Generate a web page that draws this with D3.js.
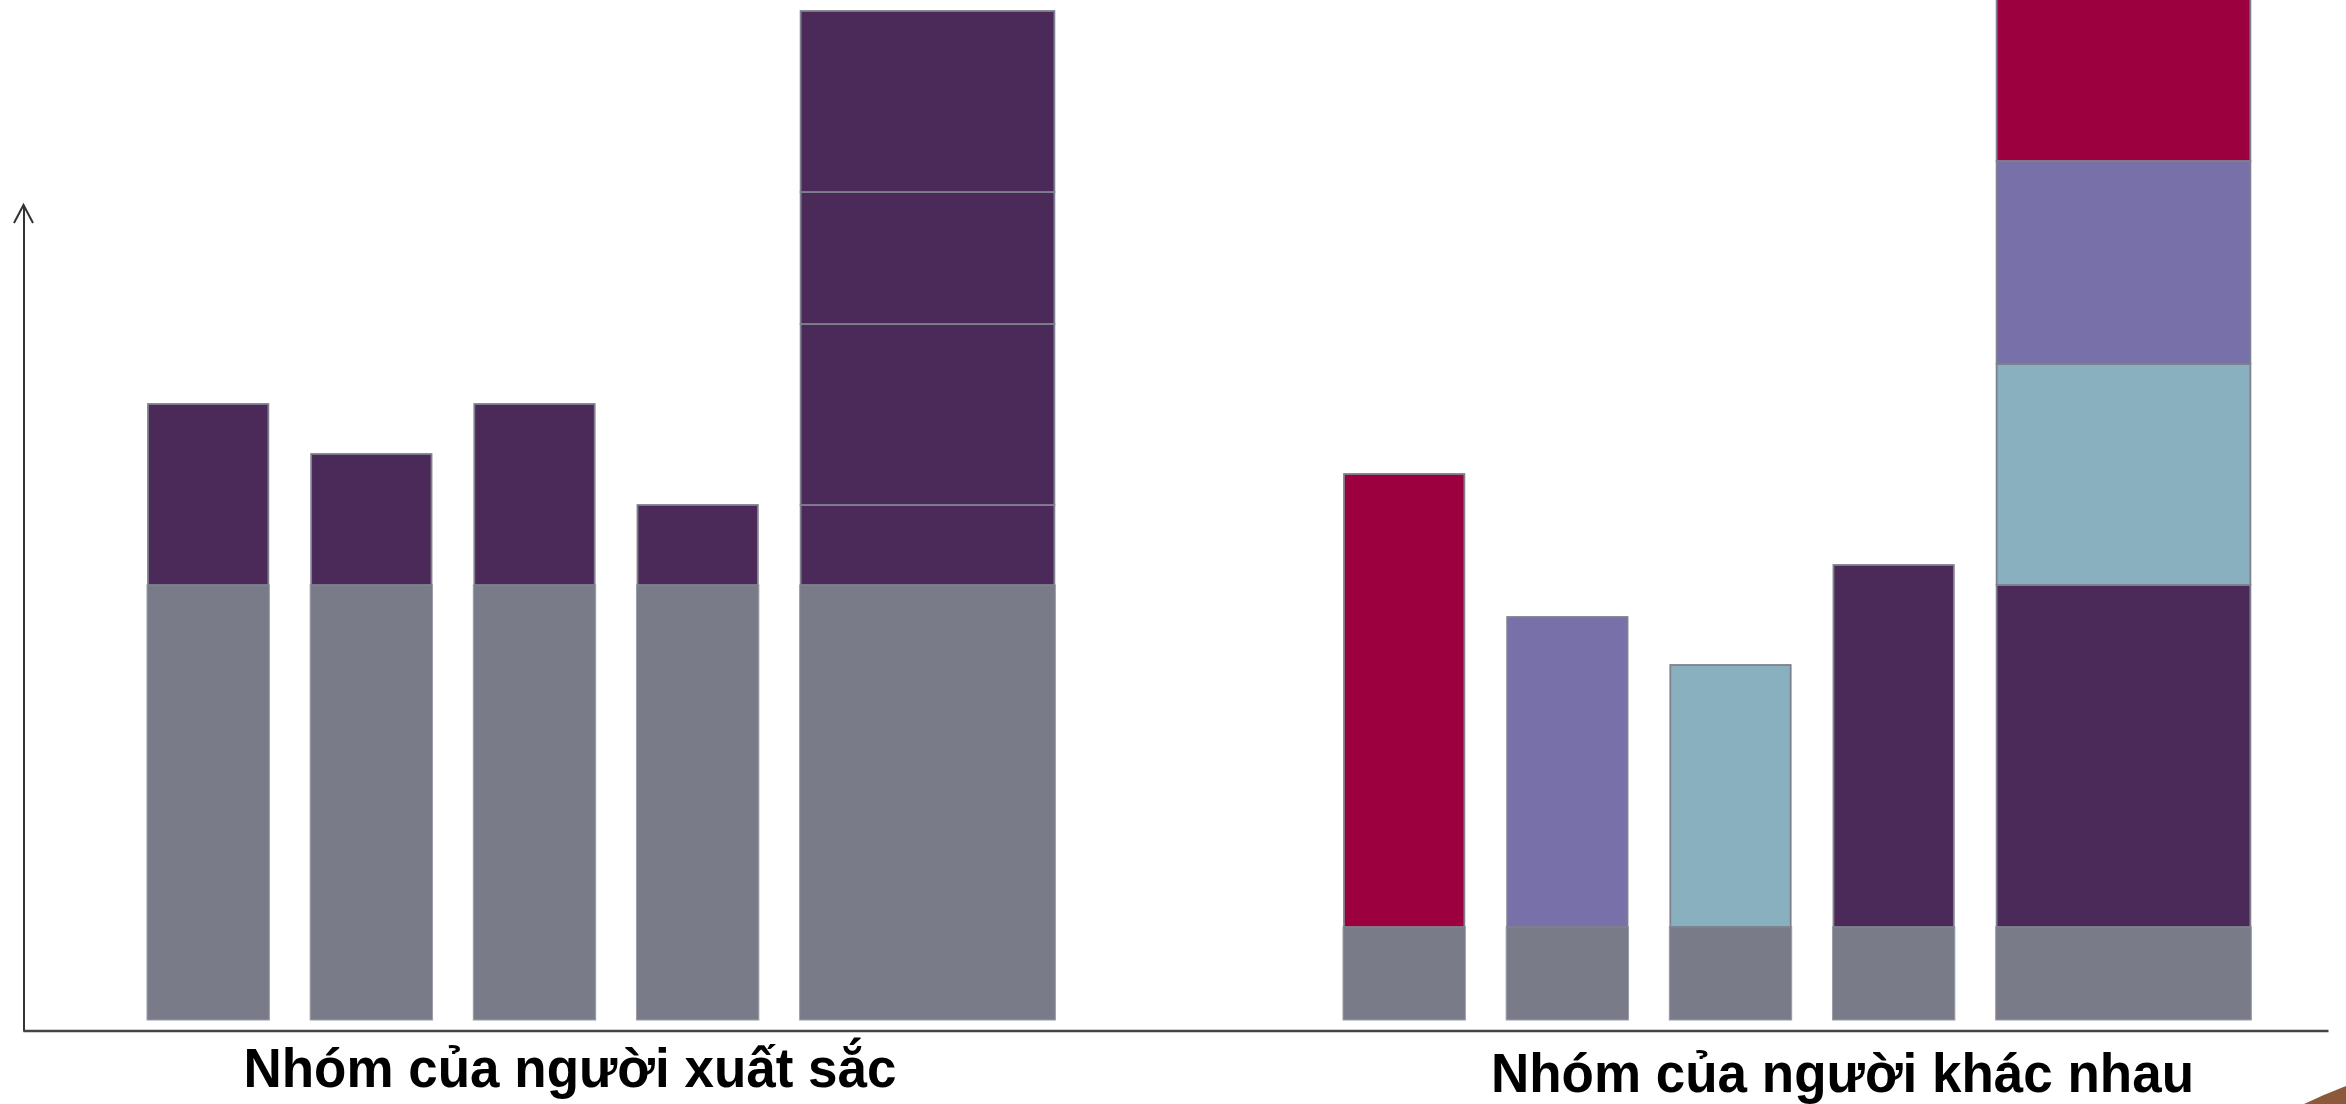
<!DOCTYPE html>
<html>
<head>
<meta charset="utf-8">
<script src="https://cdn.jsdelivr.net/npm/d3@7"></script>
<style>
  html, body { margin: 0; padding: 0; background: #ffffff; }
  svg { display: block; }
</style>
</head>
<body>
<svg id="chart" width="2346" height="1104"></svg>
<script>
// ---- DATA ----
const groupLabels = ["Nhóm của người xuất sắc", "Nhóm của người khác nhau"];

const groupACats = ["A1", "A2", "A3", "A4", "A5"];
const groupABase = [435, 435, 435, 435, 435];
const groupAExtra = [[181], [131], [181], [80], [80, 181, 132, 181]];
const groupASeries = [["d"], ["d"], ["d"], ["d"], ["d", "d", "d", "d"]];

const groupBCats = ["B1", "B2", "B3", "B4", "B5"];
const groupBBase = [93, 93, 93, 93, 93];
const groupBExtra = [[453], [310], [262], [362], [342, 221, 203, 250]];
const groupBSeries = [["r"], ["l"], ["t"], ["d"], ["d", "t", "l", "r"]];

// ---- STYLE ----
const colors = { base: "#797c88", d: "#4b2959", r: "#9c003f", l: "#7870a8", t: "#88b0be" };
const strokeColor = "#7e818d";

const svg = d3.select("#chart");

const y = d3.scaleLinear().domain([0, 1010]).range([1020, 10]);

const xA = d3.scaleBand().domain(groupACats).range([147, 922]).paddingInner(0.25).paddingOuter(0);
const xB = d3.scaleBand().domain(groupBCats).range([1343, 2118]).paddingInner(0.25).paddingOuter(0);
const wideFactor = 2.09;

function drawGroup(x, cats, base, extra, series) {
  const g = svg.append("g");
  cats.forEach((c, i) => {
    const w = i === cats.length - 1 ? x.bandwidth() * wideFactor : x.bandwidth();
    const x0 = x(c);
    g.append("rect")
      .attr("x", x0).attr("width", w)
      .attr("y", y(base[i])).attr("height", y(0) - y(base[i]))
      .attr("fill", colors.base)
      .attr("stroke", "#9a9ca6").attr("stroke-width", 1);
    let acc = base[i];
    extra[i].forEach((v, j) => {
      const top = acc + v;
      g.append("rect")
        .attr("x", x0 + 1).attr("width", w - 2)
        .attr("y", y(top)).attr("height", y(acc) - y(top))
        .attr("fill", colors[series[i][j]])
        .attr("stroke", strokeColor).attr("stroke-width", 1.8);
      acc = top;
    });
  });
}

drawGroup(xA, groupACats, groupABase, groupAExtra, groupASeries);
drawGroup(xB, groupBCats, groupBBase, groupBExtra, groupBSeries);

// ---- AXES (no ticks) ----
const yAxisScale = d3.scaleLinear().domain([0, 1]).range([1031, 205]);
const xAxisScale = d3.scaleLinear().domain([0, 1]).range([23, 2328]);

svg.append("g")
  .attr("transform", "translate(23.5,0)")
  .call(d3.axisLeft(yAxisScale).tickValues([]).tickSizeOuter(0))
  .call(g => g.select(".domain").attr("stroke", "#333").attr("stroke-width", 2));

svg.append("path")
  .attr("d", "M14,223 L23.5,205 L33,223")
  .attr("fill", "none").attr("stroke", "#333").attr("stroke-width", 2);

svg.append("g")
  .attr("transform", "translate(0,1030.5)")
  .call(d3.axisBottom(xAxisScale).tickValues([]).tickSizeOuter(0))
  .call(g => g.select(".domain").attr("stroke", "#444").attr("stroke-width", 2.5));

// ---- GROUP LABELS ----
const labelPos = [
  { cx: 570, y: 1087, w: 653 },
  { cx: 1842.5, y: 1092, w: 703 }
];
groupLabels.forEach((t, i) => {
  svg.append("text")
    .attr("x", labelPos[i].cx).attr("y", labelPos[i].y)
    .attr("text-anchor", "middle")
    .attr("font-family", "'Liberation Sans', Arial, sans-serif")
    .attr("font-weight", "bold")
    .attr("font-size", 55)
    .attr("fill", "#000")
    .attr("textLength", labelPos[i].w)
    .attr("lengthAdjust", "spacingAndGlyphs")
    .text(t);
});

// ---- decorative corner ----
svg.append("path")
  .attr("d", "M2304,1104 Q2325,1094 2346,1086 L2346,1104 Z")
  .attr("fill", "#8c5a3b");
</script>
</body>
</html>
